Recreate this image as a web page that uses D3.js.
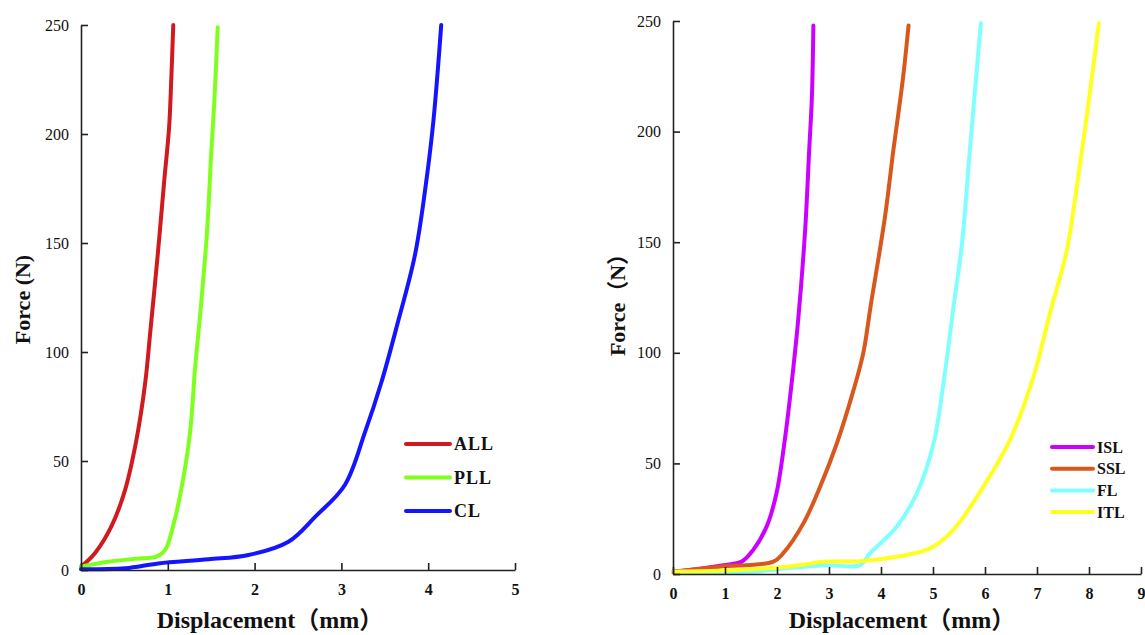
<!DOCTYPE html>
<html>
<head>
<meta charset="utf-8">
<script src="https://cdn.jsdelivr.net/npm/d3@7"></script>
<style>
  html, body { margin: 0; padding: 0; background: #fff; }
  svg { display: block; }
  text { font-family: "Liberation Serif", "Times New Roman", "Noto Sans CJK SC", serif; fill: #111; }
</style>
</head>
<body>
<svg id="chart" width="1145" height="635"></svg>
<script>
// ---------- data ----------
const leftNames  = ["ALL", "PLL", "CL"];
const leftColors = ["#d01a1e", "#7fff1e", "#1414ff"];

const ALL_x = [0, 0.16, 0.35, 0.51, 0.64, 0.74, 0.80, 0.885, 0.96, 1.015, 1.04, 1.063];
const ALL_y = [1.5, 7.7, 20, 37, 60, 86, 110, 145, 179, 203, 225, 250];

const PLL_x = [0, 0.31, 0.70, 0.87, 0.97, 1.06, 1.16, 1.256, 1.315, 1.37, 1.45, 1.50, 1.535, 1.575];
const PLL_y = [1.5, 3.8, 5.4, 6.1, 9.2, 20, 38, 63, 93, 116, 154, 191, 214, 249];

const CL_x = [0, 0.51, 0.89, 1.47, 1.93, 2.39, 2.70, 3.04, 3.27, 3.46, 3.64, 3.85, 3.99, 4.06, 4.11, 4.15];
const CL_y = [0.3, 0.8, 3, 4.9, 6.9, 13, 24.5, 39, 63, 86, 112, 145, 182, 206, 229, 250];

const rightNames  = ["ISL", "SSL", "FL", "ITL"];
const rightColors = ["#cc00ff", "#d9571c", "#80ffff", "#ffff22"];

const ISL_x = [0, 0.58, 0.97, 1.32, 1.54, 1.80, 1.99, 2.15, 2.28, 2.40, 2.54, 2.62, 2.67, 2.70];
const ISL_y = [1, 2.6, 4, 5.6, 10.8, 21.4, 36.5, 60.6, 86, 113, 155, 192, 215, 248];

const SSL_x = [0, 0.90, 1.93, 2.12, 2.51, 2.83, 3.15, 3.47, 3.66, 3.80, 4.08, 4.24, 4.33, 4.43, 4.53];
const SSL_y = [1, 3.3, 5.6, 9.4, 23, 39.5, 59, 83, 100, 121, 162, 192, 207.5, 225.6, 248];

const FL_x = [0, 1.54, 2.19, 2.96, 3.60, 3.79, 4.30, 4.69, 5.01, 5.20, 5.33, 5.39, 5.56, 5.71, 5.82, 5.92];
const FL_y = [1, 1, 2.6, 4, 4, 9.4, 21.4, 36.5, 59, 86, 109, 120, 150, 192, 222, 249];

const ITL_x = [0, 1.22, 2.19, 2.96, 3.53, 4.11, 4.94, 5.39, 5.97, 6.48, 6.93, 7.25, 7.57, 7.76, 7.96, 8.19];
const ITL_y = [1, 1.8, 3.3, 5.6, 5.7, 7.1, 11.6, 20, 39.5, 60.6, 89, 118, 146, 174, 207.5, 249];

const leftXTicks  = [0, 1, 2, 3, 4, 5];
const rightXTicks = [0, 1, 2, 3, 4, 5, 6, 7, 8, 9];
const yTicks      = [0, 50, 100, 150, 200, 250];

const yTitleLeft  = "Force (N)";
const yTitleRight = "Force\uFF08N\uFF09";
const xTitle      = "Displacement\uFF08mm\uFF09";

// ---------- drawing ----------
const svg = d3.select("#chart");
svg.append("rect").attr("width", 1145).attr("height", 635).attr("fill", "#fff");

const SERIF = '"Liberation Serif", "Times New Roman", "Noto Sans CJK SC", serif';

function zip(xs, ys) { return xs.map((x, i) => [x, ys[i]]); }

function panel(cfg) {
  const g = svg.append("g");
  const x = d3.scaleLinear().domain(cfg.xDomain).range(cfg.xRange);
  const y = d3.scaleLinear().domain([0, 250]).range(cfg.yRange);

  const line = d3.line()
    .x(d => x(d[0])).y(d => y(d[1]))
    .curve(d3.curveCatmullRom.alpha(0.5));

  cfg.series.forEach((s, i) => {
    g.append("path")
      .datum(zip(s[0], s[1]))
      .attr("fill", "none")
      .attr("stroke", cfg.colors[i])
      .attr("stroke-width", 4)
      .attr("stroke-linejoin", "round")
      .attr("stroke-linecap", "round")
      .attr("d", line);
  });

  // axes
  const xa = g.append("g").attr("transform", `translate(0,${cfg.yRange[0]})`)
    .call(d3.axisBottom(x).tickValues(cfg.xTicks).tickFormat(d3.format("d"))
      .tickSizeInner(-7).tickSizeOuter(0).tickPadding(14));
  const ya = g.append("g").attr("transform", `translate(${cfg.xRange[0]},0)`)
    .call(d3.axisLeft(y).tickValues(yTicks).tickFormat(d3.format("d"))
      .tickSizeInner(-7).tickSizeOuter(0).tickPadding(12));
  [xa, ya].forEach(a => {
    a.attr("font-family", SERIF);
    a.selectAll("path.domain").attr("stroke", "#222").attr("stroke-width", 1.6);
    a.selectAll(".tick line").attr("stroke", "#222").attr("stroke-width", 1.6);
    a.selectAll("text").attr("fill", "#111")
      .style("font-family", SERIF)
      .style("font-size", "16px");
  });
  xa.selectAll("text").style("font-weight", "bold");

  // titles
  g.append("text")
    .attr("transform", `translate(${cfg.yTitleX},${(cfg.yRange[0] + cfg.yRange[1]) / 2 + 2}) rotate(-90)`)
    .attr("text-anchor", "middle")
    .style("font-family", SERIF)
    .style("font-size", "22px").style("font-weight", "bold")
    .text(cfg.yTitle);
  g.append("text")
    .attr("x", cfg.xTitleX).attr("y", 628)
    .attr("text-anchor", "middle")
    .style("font-family", SERIF)
    .style("font-size", "24px").style("font-weight", "bold")
    .text(xTitle);

  // legend
  const lg = g.append("g");
  cfg.names.forEach((n, i) => {
    const yy = cfg.legY + i * cfg.legStep;
    lg.append("line")
      .attr("x1", cfg.legX).attr("x2", cfg.legX + cfg.legLen)
      .attr("y1", yy).attr("y2", yy)
      .attr("stroke", cfg.colors[i]).attr("stroke-width", 4).attr("stroke-linecap", "round");
    lg.append("text")
      .attr("x", cfg.legX + cfg.legLen + 4).attr("y", yy)
      .attr("dy", "0.35em")
      .style("font-family", SERIF)
      .style("font-size", cfg.legFont).style("font-weight", "bold")
      .style("letter-spacing", cfg.legSpacing)
      .text(n);
  });
}

panel({
  xDomain: [0, 5], xRange: [81, 515], yRange: [570, 25],
  xTicks: leftXTicks,
  series: [[ALL_x, ALL_y], [PLL_x, PLL_y], [CL_x, CL_y]],
  colors: leftColors, names: leftNames,
  yTitle: yTitleLeft, yTitleX: 30, xTitleX: 270,
  legX: 406, legY: 444, legStep: 33.5, legLen: 44, legFont: "18px", legSpacing: "1px"
});

panel({
  xDomain: [0, 9], xRange: [673, 1141], yRange: [574, 21],
  xTicks: rightXTicks,
  series: [[ISL_x, ISL_y], [SSL_x, SSL_y], [FL_x, FL_y], [ITL_x, ITL_y]],
  colors: rightColors, names: rightNames,
  yTitle: yTitleRight, yTitleX: 625, xTitleX: 902,
  legX: 1052, legY: 447, legStep: 21.7, legLen: 41, legFont: "16px", legSpacing: "0px"
});
</script>
</body>
</html>
